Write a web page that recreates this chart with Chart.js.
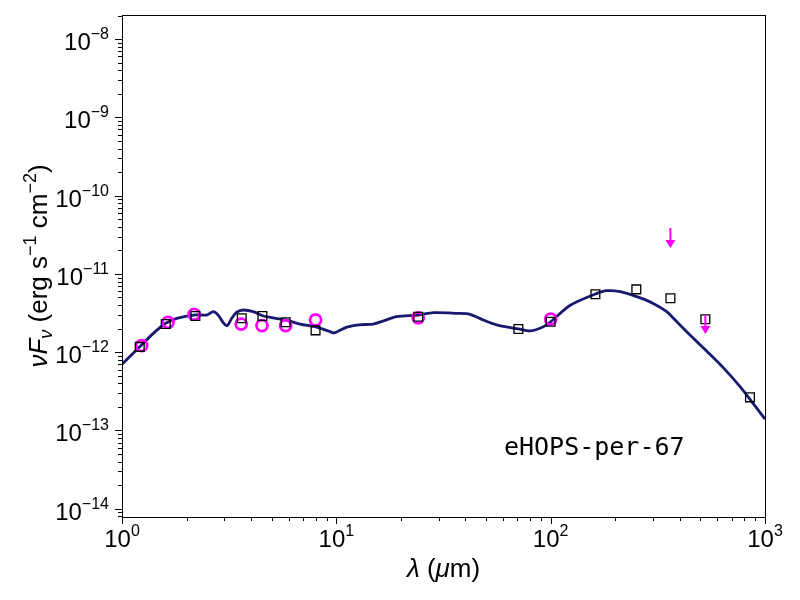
<!DOCTYPE html>
<html>
<head>
<meta charset="utf-8">
<script src="https://cdn.jsdelivr.net/npm/chart.js@4.4.1/dist/chart.umd.min.js"></script>
<style>
  html, body { margin: 0; padding: 0; background: #fff; }
  #wrap { width: 800px; height: 600px; }
</style>
</head>
<body>
<div id="wrap"><canvas id="sedChart" width="800" height="600"></canvas></div>
<script>
// model SED (wavelength in micron, nuFnu in erg s^-1 cm^-2)
const modelWave = [1.0, 1.21, 1.40, 1.60, 1.80, 2.20, 2.48, 2.67, 2.81, 2.97, 3.10, 3.25, 3.43, 3.68, 4.10, 4.57,
  5.8, 6.77, 8.1, 9.35, 9.8, 11.2, 12.7, 14.9, 16.6, 19.1, 24.1, 28.4, 36.5, 42, 48.5, 56, 70.7, 80.2, 92.5,
  100, 123, 161.7, 183, 211, 252, 301, 348, 374, 447, 535, 640, 765, 851, 1000];
const modelFlux = [7.0e-13, 1.17e-12, 1.74e-12, 2.34e-12, 2.71e-12, 3.0e-12, 2.98e-12, 3.29e-12, 2.98e-12, 2.38e-12,
  2.19e-12, 2.71e-12, 3.24e-12, 3.46e-12, 3.29e-12, 2.9e-12, 2.58e-12, 2.29e-12, 2.09e-12, 1.83e-12, 1.77e-12,
  2.09e-12, 2.24e-12, 2.29e-12, 2.51e-12, 2.84e-12, 2.98e-12, 3.2e-12, 3.14e-12, 3.05e-12, 2.58e-12, 2.24e-12,
  1.98e-12, 1.87e-12, 2.12e-12, 2.45e-12, 3.95e-12, 5.53e-12, 6.1e-12, 5.93e-12, 5.12e-12, 4.2e-12, 3.29e-12,
  2.71e-12, 1.66e-12, 1.03e-12, 6.3e-13, 3.63e-13, 2.5e-13, 1.4e-13];

// observed photometry (black squares)
const photWave = [1.21, 1.60, 2.20, 3.62, 4.52, 5.8, 8.0, 24.1, 70.7, 100, 161.7, 251, 362, 527, 851];
const photFlux = [1.17e-12, 2.29e-12, 2.9e-12, 2.71e-12, 2.9e-12, 2.41e-12, 1.9e-12, 2.84e-12, 1.98e-12,
  2.45e-12, 5.5e-12, 6.35e-12, 4.88e-12, 2.63e-12, 2.65e-13];

// model photometry (magenta circles)
const synWave = [1.235, 1.64, 2.17, 3.6, 4.5, 5.8, 8.0, 24.1, 100];
const synFlux = [1.21e-12, 2.41e-12, 3.05e-12, 2.29e-12, 2.19e-12, 2.19e-12, 2.58e-12, 2.75e-12, 2.65e-12];

// upper limits (magenta arrows)
const limitWave = [362, 527];
const limitTop = [3.86e-11, 2.98e-12];
const limitTip = [2.14e-11, 1.71e-12];

// axes
const xMin = 1, xMax = 1000;
const yMin = 7.85e-15, yMax = 2.03e-8;
const xTickExp = [0, 1, 2, 3];
const yTickExp = [-14, -13, -12, -11, -10, -9, -8];

const sourceName = "eHOPS-per-67";

const SANS = '"Liberation Sans", Arial, sans-serif';
const toXY = (xs, ys) => xs.map((v, i) => ({ x: v, y: ys[i] }));

function drawRich(ctx, parts, cx, base) {
  let total = 0;
  parts.forEach(p => { ctx.font = p.font; p.w = ctx.measureText(p.t).width; total += p.w; });
  let xp = cx - total / 2;
  parts.forEach(p => {
    ctx.font = p.font;
    ctx.fillText(p.t, xp, base + (p.dy || 0));
    xp += p.w;
  });
  return total;
}

function powParts(e) {
  const s = e < 0 ? "\u2212" + Math.abs(e) : String(e);
  return [
    { t: "10", font: "24px " + SANS },
    { t: s, font: "16px " + SANS, dy: -11 }
  ];
}

const mplAxes = {
  id: "mplAxes",
  afterDatasetsDraw(chart) {
    const { ctx, scales: { x, y } } = chart;
    ctx.save();
    ctx.strokeStyle = "#ff00ff";
    ctx.fillStyle = "#ff00ff";
    ctx.lineWidth = 2;
    limitWave.forEach((w, i) => {
      const px = x.getPixelForValue(w);
      const top = y.getPixelForValue(limitTop[i]);
      const tip = y.getPixelForValue(limitTip[i]);
      ctx.beginPath();
      ctx.moveTo(px, top);
      ctx.lineTo(px, tip - 6);
      ctx.stroke();
      ctx.beginPath();
      ctx.moveTo(px - 5, tip - 8);
      ctx.lineTo(px + 5, tip - 8);
      ctx.lineTo(px, tip);
      ctx.closePath();
      ctx.fill();
    });
    ctx.restore();
  },
  afterDraw(chart) {
    const { ctx, chartArea: a, scales: { x, y } } = chart;
    ctx.save();
    ctx.strokeStyle = "#000";
    ctx.fillStyle = "#000";
    ctx.lineWidth = 1;

    // frame
    ctx.strokeRect(Math.round(a.left) + 0.5, Math.round(a.top) + 0.5,
      Math.round(a.right - a.left), Math.round(a.bottom - a.top));

    // ticks, outward on left and bottom only
    const tick = (px, len, horiz) => {
      ctx.beginPath();
      if (horiz) {
        const yy = Math.round(px) + 0.5;
        ctx.moveTo(a.left, yy); ctx.lineTo(a.left - len, yy);
      } else {
        const xx = Math.round(px) + 0.5;
        ctx.moveTo(xx, a.bottom); ctx.lineTo(xx, a.bottom + len);
      }
      ctx.stroke();
    };
    for (let e = -15; e <= -8; e++) {
      for (let k = 1; k <= 9; k++) {
        const v = k * Math.pow(10, e);
        if (v < yMin || v > yMax) continue;
        tick(y.getPixelForValue(v), k === 1 ? 7 : 4, true);
      }
    }
    for (let e = 0; e <= 3; e++) {
      for (let k = 1; k <= 9; k++) {
        const v = k * Math.pow(10, e);
        if (v < xMin || v > xMax) continue;
        tick(x.getPixelForValue(v), k === 1 ? 7 : 4, false);
      }
    }

    // tick labels
    ctx.textBaseline = "alphabetic";
    ctx.textAlign = "left";
    xTickExp.forEach(e => {
      drawRich(ctx, powParts(e), x.getPixelForValue(Math.pow(10, e)), a.bottom + 30);
    });
    yTickExp.forEach(e => {
      const parts = powParts(e);
      let w = 0;
      parts.forEach(p => { ctx.font = p.font; w += ctx.measureText(p.t).width; });
      drawRich(ctx, parts, a.left - 13 - w / 2, y.getPixelForValue(Math.pow(10, e)) + 11);
    });

    // axis titles
    drawRich(ctx, [
      { t: "\u03bb", font: "italic 26px " + SANS },
      { t: " (", font: "26px " + SANS },
      { t: "\u03bc", font: "italic 26px " + SANS },
      { t: "m)", font: "26px " + SANS }
    ], (a.left + a.right) / 2, 577);

    ctx.save();
    ctx.translate(47, (a.top + a.bottom) / 2);
    ctx.rotate(-Math.PI / 2);
    drawRich(ctx, [
      { t: "\u03bd", font: "italic 26px " + SANS },
      { t: "F", font: "italic 26px " + SANS },
      { t: "\u03bd", font: "italic 18px " + SANS, dy: 5 },
      { t: " (erg s", font: "26px " + SANS },
      { t: "\u22121", font: "18px " + SANS, dy: -11 },
      { t: " cm", font: "26px " + SANS },
      { t: "\u22122", font: "18px " + SANS, dy: -11 },
      { t: ")", font: "26px " + SANS }
    ], 0, 0);
    ctx.restore();

    // source name
    ctx.font = '25px "DejaVu Sans Mono", monospace';
    ctx.textAlign = "left";
    ctx.fillText(sourceName, a.left + 0.594 * (a.right - a.left), a.top + 0.8765 * (a.bottom - a.top));
    ctx.restore();
  }
};

const ctx = document.getElementById("sedChart").getContext("2d");
const chart = new Chart(ctx, {
  type: "scatter",
  data: {
    datasets: [
      {
        label: "observed",
        data: toXY(photWave, photFlux),
        pointStyle: "rect",
        pointRadius: 6.2,
        pointBorderWidth: 1.3,
        pointBorderColor: "#000",
        pointBackgroundColor: "rgba(0,0,0,0)"
      },
      {
        label: "synthetic",
        data: toXY(synWave, synFlux),
        pointStyle: "circle",
        pointRadius: 5.5,
        pointBorderWidth: 2.8,
        pointBorderColor: "#ff00ff",
        pointBackgroundColor: "rgba(0,0,0,0)"
      },
      {
        label: "model",
        data: toXY(modelWave, modelFlux),
        showLine: true,
        borderColor: "#191970",
        borderWidth: 2.8,
        pointRadius: 0,
        tension: 0.3
      }
    ]
  },
  options: {
    responsive: false,
    animation: false,
    devicePixelRatio: 1,
    layout: { padding: { left: 0, top: 15, right: 35, bottom: 0 } },
    plugins: { legend: { display: false }, tooltip: { enabled: false } },
    scales: {
      x: {
        type: "logarithmic", min: xMin, max: xMax,
        ticks: { display: false }, grid: { display: false }, border: { display: false },
        afterFit(s) { s.height = 83; }
      },
      y: {
        type: "logarithmic", min: yMin, max: yMax,
        ticks: { display: false }, grid: { display: false }, border: { display: false },
        afterFit(s) { s.width = 122; }
      }
    }
  },
  plugins: [mplAxes]
});
</script>
</body>
</html>
